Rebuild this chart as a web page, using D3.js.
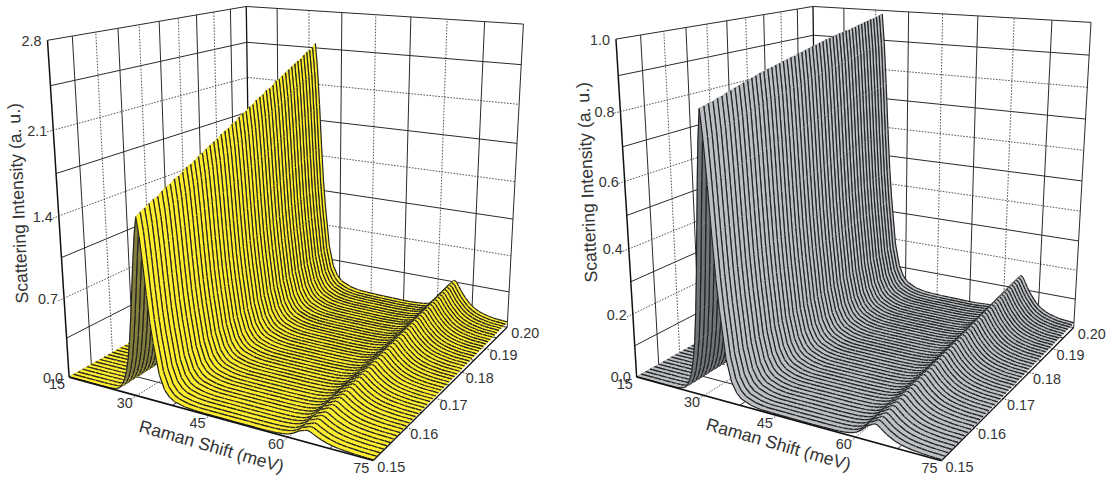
<!DOCTYPE html>
<html><head><meta charset="utf-8">
<style>html,body{margin:0;padding:0;background:#fff}svg{display:block}text{font-family:"Liberation Sans",Arial,sans-serif;fill:#333}</style>
<script src="https://cdn.jsdelivr.net/npm/d3@7/dist/d3.min.js"></script>
</head><body><svg id="c" width="1109" height="478"></svg>
<script>
// --- Data ---
const qValues = [0.150,0.151,0.152,0.153,0.154,0.155,0.156,0.157,0.158,0.159,0.160,0.161,0.162,0.163,0.164,0.165,0.166,0.167,0.168,0.169,0.170,0.171,0.172,0.173,0.174,0.175,0.176,0.177,0.178,0.179,0.180,0.181,0.182,0.183,0.184,0.185,0.186,0.187,0.188,0.189,0.190,0.191,0.192,0.193,0.194,0.195,0.196,0.197,0.198,0.199,0.200];
const ramanShift = [15,18,20,22,23,24,25,25.5,26,26.5,27,27.5,28,28.5,29,29.5,30,30.5,31,31.5,32,32.5,33,33.5,34,35,36,37,38,40,42,44,46,48,50,52,54,56,57,58,59,60,61,62,63,63.5,64,64.5,65,65.5,66,67,68,69,70,71,72,73,74,75];
const mainPeakShape = [0,0,0,0,0,0,.002,.005,.01,.02,.04,.07,.12,.19,.3,.44,.6,.76,.9,1,.9,.75,.58,.43,.32,.15,.07,.035,.018,.005,0,0,0,0,0,0,0,0,0,0,0,0,0,0,0,0,0,0,0,0,0,0,0,0,0,0,0,0,0,0];
const wingShape = [.1,.12,.13,.15,.17,.2,.22,.24,.26,.3,.33,.37,.42,.48,.55,.62,.7,.8,.9,1,.98,.96,.92,.88,.83,.74,.66,.6,.55,.48,.44,.4,.38,.37,.36,.35,.35,.36,.36,.37,.37,.38,.38,.39,.4,.4,.4,.4,.39,.39,.38,.35,.33,.31,.3,.29,.28,.27,.27,.26];
const softPeakShape = [0,0,0,0,0,0,0,0,0,0,0,0,0,0,0,0,0,0,0,0,0,0,0,0,0,0,0,0,0,0,0,0,0,0,0,0,0,.01,.02,.05,.1,.2,.42,.75,.92,1,.95,.82,.7,.58,.49,.33,.22,.15,.1,.07,.04,.03,.02,.01];

const yellowMainPeak = [1.49,1.51,1.53,1.54,1.56,1.57,1.59,1.61,1.62,1.64,1.65,1.67,1.69,1.70,1.72,1.73,1.75,1.77,1.78,1.80,1.81,1.83,1.85,1.86,1.88,1.89,1.91,1.93,1.94,1.96,1.97,1.99,2.01,2.02,2.04,2.05,2.07,2.09,2.10,2.12,2.13,2.15,2.17,2.18,2.20,2.21,2.23,2.25,2.26,2.28,2.30];
const yellowWing = [.02,.02,.02,.03,.03,.03,.04,.04,.04,.05,.05,.05,.06,.06,.06,.07,.07,.07,.08,.08,.08,.09,.09,.09,.10,.10,.11,.11,.11,.12,.12,.13,.13,.13,.14,.14,.14,.15,.15,.15,.16,.16,.16,.17,.17,.17,.18,.18,.18,.18,.19];
const yellowSoftPeak = [.09,.094,.098,.102,.106,.11,.114,.118,.122,.126,.13,.134,.138,.142,.146,.15,.154,.158,.162,.166,.17,.174,.178,.182,.186,.19,.194,.198,.202,.206,.21,.214,.218,.222,.226,.23,.234,.238,.242,.246,.25,.254,.258,.262,.266,.27,.274,.278,.282,.286,.29];

const greyMainPeak = [.825,.828,.831,.834,.837,.84,.843,.846,.849,.852,.855,.858,.861,.864,.867,.869,.871,.873,.875,.877,.879,.881,.883,.885,.887,.889,.891,.893,.895,.897,.899,.901,.903,.905,.907,.908,.909,.91,.911,.912,.913,.915,.917,.919,.92,.922,.923,.924,.926,.928,.93];
const greyWing = [.01,.01,.01,.01,.012,.012,.014,.014,.016,.016,.018,.018,.02,.02,.022,.022,.024,.024,.026,.026,.028,.028,.03,.03,.032,.032,.034,.034,.036,.036,.038,.038,.04,.04,.042,.042,.044,.044,.046,.046,.048,.048,.05,.05,.052,.052,.054,.054,.056,.056,.058];
const greySoftPeak = [.05,.052,.053,.055,.056,.058,.059,.061,.062,.064,.065,.067,.068,.07,.071,.073,.074,.076,.077,.079,.08,.082,.083,.085,.086,.088,.089,.091,.092,.094,.095,.097,.098,.1,.101,.103,.104,.106,.107,.109,.11,.112,.113,.115,.116,.118,.119,.121,.122,.124,.125];

const xTicks = [15,30,45,60,75];
const yTicks = [0.15,0.16,0.17,0.18,0.19,0.20];
const xMinor = [22.5,37.5,52.5,67.5];
const yMinor = [0.155,0.165,0.175,0.185,0.195];
const zTicksYellow = ["0.0","0.7","1.4","2.1","2.8"];
const zTicksGrey = ["0.0","0.2","0.4","0.6","0.8","1.0"];
const zMinorYellow = [0.35,1.05,1.75,2.45];
const zMinorGrey = [0.1,0.3,0.5,0.7,0.9];

// --- Layout: where the plot box's corners appear on the page ---
const yellowCorners = [[0,0,0,69,376],[1,0,0,374,461],[1,1,0,507,327],[0,1,0,250,277],[0,0,1,47,41],[0,1,1,247,6],[1,1,1,523,24]];
const greyCorners = [[0,0,0,637,376],[1,0,0,941,462],[1,1,0,1074,326],[0,1,0,816,278],[0,0,1,616,39],[0,1,1,813,6],[1,1,1,1091,23]];

function solve(A,b){
  const n=b.length,M=A.map((r,i)=>[...r,b[i]]);
  for(let i=0;i<n;i++){
    let p=i;for(let k=i+1;k<n;k++)if(Math.abs(M[k][i])>Math.abs(M[p][i]))p=k;
    [M[i],M[p]]=[M[p],M[i]];
    for(let k=i+1;k<n;k++){const f=M[k][i]/M[i][i];for(let j=i;j<=n;j++)M[k][j]-=f*M[i][j];}
  }
  const x=Array(n).fill(0);
  for(let i=n-1;i>=0;i--){let s=M[i][n];for(let j=i+1;j<n;j++)s-=M[i][j]*x[j];x[i]=s/M[i][i];}
  return x;
}
function fitCamera(pts){
  const rows=[],rhs=[];
  pts.forEach(([u,v,w,X,Y])=>{
    rows.push([u,v,w,1,0,0,0,0,-X*u,-X*v,-X*w]);rhs.push(X);
    rows.push([0,0,0,0,u,v,w,1,-Y*u,-Y*v,-Y*w]);rhs.push(Y);
  });
  const n=11,A=d3.range(n).map(i=>d3.range(n).map(j=>d3.sum(rows,r=>r[i]*r[j]))),b=d3.range(n).map(i=>d3.sum(rows,(r,k)=>r[i]*rhs[k]));
  const p=solve(A,b);
  return (u,v,w)=>{const d=p[8]*u+p[9]*v+p[10]*w+1;return[(p[0]*u+p[1]*v+p[2]*w+p[3])/d,(p[4]*u+p[5]*v+p[6]*w+p[7])/d];};
}

const svg=d3.select("#c");
const lineGen=d3.line();

function drawPanel(o){
  const g=svg.append("g");
  const zMax=+o.zTicks[o.zTicks.length-1];
  const sx=d3.scaleLinear().domain([15,75]).range([0,1]);
  const sy=d3.scaleLinear().domain([0.15,0.20]).range([0,1]);
  const sz=d3.scaleLinear().domain([0,zMax]).range([0,1]);
  const cam=fitCamera(o.corners);
  const P=(x,y,z)=>cam(sx(x),sy(y),sz(z));
  const seg=(a,b,solid)=>g.append("path").attr("d",lineGen([a,b])).attr("fill","none")
    .attr("stroke",solid?"#2a2a2a":"#444").attr("stroke-width",solid?1:0.9).attr("stroke-dasharray",solid?null:"1.6,1.4");
  const zVals=o.zTicks.map(Number), yOut=0.15-0.05*0.025, xEnd=75+60*0.025;
  // left wall (x=15) and back wall (y=0.20)
  zVals.forEach((z,i)=>{const top=i===zVals.length-1;if(i===0)return;
    seg(P(15,top?0.15:yOut,z),P(15,0.20,z),top);seg(P(15,0.20,z),P(75,0.20,z),top);});
  o.zMinor.forEach(z=>{seg(P(15,0.15,z),P(15,0.20,z),true);seg(P(15,0.20,z),P(75,0.20,z),true);});
  yTicks.slice(1,-1).forEach(y=>{seg(P(15,y,0),P(15,y,zMax),false);seg(P(15,y,0),P(xEnd,y,0),false);});
  yMinor.forEach(y=>{seg(P(15,y,0),P(15,y,zMax),true);seg(P(15,y,0),P(75,y,0),true);});
  xTicks.slice(1,-1).forEach(x=>{seg(P(x,0.20,0),P(x,0.20,zMax),false);seg(P(x,yOut,0),P(x,0.20,0),false);});
  xMinor.forEach(x=>{seg(P(x,0.20,0),P(x,0.20,zMax),true);seg(P(x,0.15,0),P(x,0.20,0),true);});
  seg(P(15,0.20,0),P(15,0.20,zMax),true).attr("stroke","#111").attr("stroke-width",1.3);
  seg(P(75,0.20,0),P(75,0.20,zMax),true);
  seg(P(15,0.20,0),P(75,0.20,0),true);seg(P(15,0.15,0),P(15,0.20,0),true);
  // surface, far strip first
  const table=qValues.map((q,i)=>ramanShift.map((x,j)=>o.main[i]*mainPeakShape[j]+o.wing[i]*wingShape[j]+o.soft[i]*softPeakShape[j]));
  const shade=d3.interpolateRgb(o.fill,o.dark);
  const surf=g.append("g");
  for(let i=qValues.length-1;i>0;i--){
    const far=qValues[i],near=qValues[i-1];
    for(let j=0;j<ramanShift.length-1;j++){
      const x0=ramanShift[j],x1=ramanShift[j+1];
      const a=P(x0,far,table[i][j]),b=P(x1,far,table[i][j+1]),c=P(x1,near,table[i-1][j+1]),d=P(x0,near,table[i-1][j]);
      const slope=((table[i-1][j+1]-table[i-1][j])/zMax)/(x1-x0);
      const col=shade(Math.max(0,Math.min(1,slope/0.04)));
      surf.append("path").attr("d",lineGen([a,b,c,d])+"Z").attr("fill",col).attr("stroke",col).attr("stroke-width",0.5);
      surf.append("path").attr("d",lineGen([a,b])).attr("fill","none").attr("stroke","#222").attr("stroke-width",1.2);
      surf.append("path").attr("d",lineGen([d,c])).attr("fill","none").attr("stroke","#222").attr("stroke-width",1.2);
    }
  }
  // axes on top
  const axis=(a,b,w)=>g.append("path").attr("d",lineGen([a,b])).attr("stroke","#111").attr("stroke-width",w).attr("fill","none");
  axis(P(15,0.15,0),P(15,0.15,zMax),1.5);
  axis(P(15,0.15,0),P(75,0.15,0),1.7);
  axis(P(75,0.15,0),P(75,0.20,0),1.2);
  const label=(t,p,dx,dy,anchor)=>g.append("text").attr("x",p[0]+dx).attr("y",p[1]+dy).attr("text-anchor",anchor).attr("font-size",14.4).text(t);
  o.zTicks.forEach(t=>label(t,P(15,0.15,+t),-6,5.5,"end"));
  xTicks.forEach(x=>label(String(x),P(x,0.15,0),-12,12,"middle"));
  yTicks.forEach(y=>label(y.toFixed(2),P(75,y,0),4,11,"start"));
  g.append("text").attr("transform",`translate(${o.zTitle[0]},${o.zTitle[1]}) rotate(-92.5)`).attr("text-anchor","middle").attr("font-size",17.6).text("Scattering Intensity (a. u.)");
  g.append("text").attr("transform",`translate(${o.xTitle[0]},${o.xTitle[1]}) rotate(16)`).attr("text-anchor","middle").attr("font-size",17.6).text("Raman Shift (meV)");
}
drawPanel({corners:yellowCorners,zTicks:zTicksYellow,zMinor:zMinorYellow,main:yellowMainPeak,wing:yellowWing,soft:yellowSoftPeak,fill:"#ffee2e",dark:"#857f3c",zTitle:[24,203],xTitle:[210,452]});
drawPanel({corners:greyCorners,zTicks:zTicksGrey,zMinor:zMinorGrey,main:greyMainPeak,wing:greyWing,soft:greySoftPeak,fill:"#bcc0c5",dark:"#71757a",zTitle:[593,182],xTitle:[777,450]});
</script></body></html>
